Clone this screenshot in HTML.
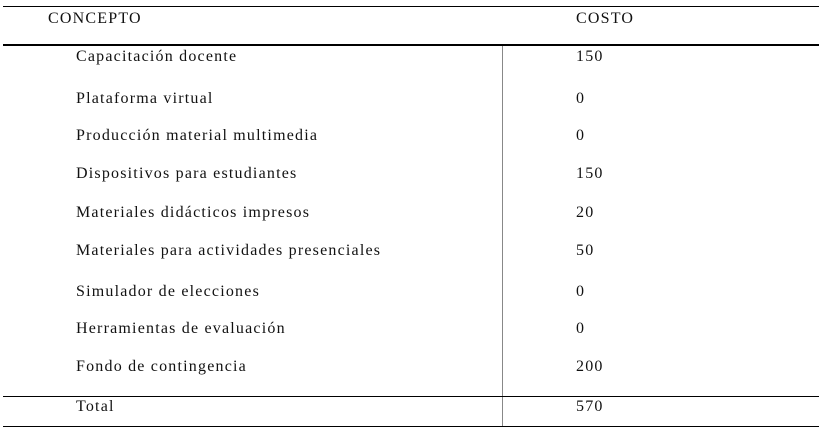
<!DOCTYPE html>
<html><head><meta charset="utf-8"><style>
body{margin:0;width:822px;height:436px;background:#fff;position:relative;font-family:"Liberation Serif",serif;font-size:16px;color:#111;overflow:hidden}
.l{position:absolute;background:#000}
.t{position:absolute;line-height:20px;white-space:nowrap;letter-spacing:1.2px}
</style></head><body>
<div class="l" style="left:3px;top:6px;width:816px;height:1px"></div>
<div class="l" style="left:3px;top:44px;width:816px;height:2px"></div>
<div class="l" style="left:502px;top:46px;width:1px;height:381px;background:#888"></div>
<div class="l" style="left:3px;top:396px;width:816px;height:1px"></div>
<div class="l" style="left:3px;top:426px;width:816px;height:1px"></div>
<div class="t" style="left:48px;top:9px">CONCEPTO</div>
<div class="t" style="left:576px;top:9px">COSTO</div>
<div id="rows"></div>
<script>
const concepts=["Capacitación docente","Plataforma virtual","Producción material multimedia","Dispositivos para estudiantes","Materiales didácticos impresos","Materiales para actividades presenciales","Simulador de elecciones","Herramientas de evaluación","Fondo de contingencia","Total"];
const costs=["150","0","0","150","20","50","0","0","200","570"];
const tops=[47,89,126,164,203,241,282,319,357,397];
const c=document.getElementById('rows');
concepts.forEach((name,i)=>{
  const a=document.createElement('div');a.className='t';a.style.left='76px';a.style.top=tops[i]+'px';a.textContent=name;
  
  
  c.appendChild(a);
  const b=document.createElement('div');b.className='t';b.style.left='576px';b.style.top=tops[i]+'px';b.textContent=costs[i];
  
  
  c.appendChild(b);
});
</script>
</body></html>
